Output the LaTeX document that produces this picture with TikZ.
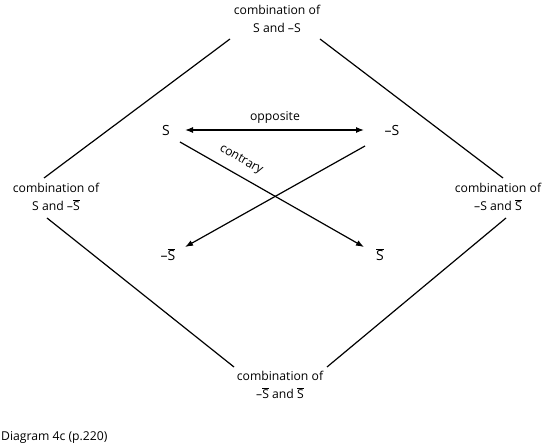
\documentclass[tikz,border=0pt]{standalone}
\usepackage{fontspec}
\setmainfont{Open Sans}
\usetikzlibrary{arrows.meta}
\newcommand{\Sb}{\ensuremath{\overline{\mbox{S}}}}
\begin{document}
\begin{tikzpicture}[x=1pt,y=-1pt,
  lbl/.style={align=center,font=\fontsize{12.2}{18}\selectfont,inner sep=0pt},
  sym/.style={font=\fontsize{14}{16}\selectfont,inner sep=1pt},
  edge/.style={line width=1.2pt},
  arr/.style={line width=1.2pt,-{Latex[length=8pt,width=6pt]}},
  darr/.style={line width=1.2pt,{Latex[length=8pt,width=6pt]}-{Latex[length=8pt,width=6pt]}}]
\useasboundingbox (0,0) rectangle (544,446);
\node[lbl] (top) at (277,19) {combination of\\S and --S};
\node[lbl] (left) at (56,197) {combination of\\S and --\Sb};
\node[lbl] (right) at (498,197) {combination of\\--S and \Sb};
\node[lbl] (bot) at (280,385) {combination of\\--\Sb{} and \Sb};
\node[lbl,anchor=west] (cap) at (1,437) {Diagram 4c (p.220)};
\coordinate (tl1) at (230,39); \coordinate (tl2) at (44,178);
\coordinate (tr1) at (320,39); \coordinate (tr2) at (503,178);
\coordinate (bl1) at (47,218); \coordinate (bl2) at (234,367);
\coordinate (br1) at (506,218); \coordinate (br2) at (327,367);
\draw[edge] (tl1) -- (tl2);
\draw[edge] (tr1) -- (tr2);
\draw[edge] (bl1) -- (bl2);
\draw[edge] (br1) -- (br2);
\node[sym] (S) at (166,131) {S};
\node[sym] (nS) at (392,131) {--S};
\node[sym] (nSb) at (168,255) {--\Sb};
\node[sym] (Sb) at (380,255) {\Sb};
\coordinate (a1) at (185,130); \coordinate (a2) at (364,130);
\draw[darr] (a1) -- (a2);
\node[lbl] (opp) at (275,117) {opposite};
\coordinate (c1) at (180,142); \coordinate (c2) at (364,247);
\coordinate (d1) at (365,146); \coordinate (d2) at (185,247);
\draw[arr] (c1) -- (c2);
\draw[arr] (d1) -- (d2);
\node[lbl,rotate=-29.7] (con) at (241,160) {contrary};
\end{tikzpicture}
\end{document}
